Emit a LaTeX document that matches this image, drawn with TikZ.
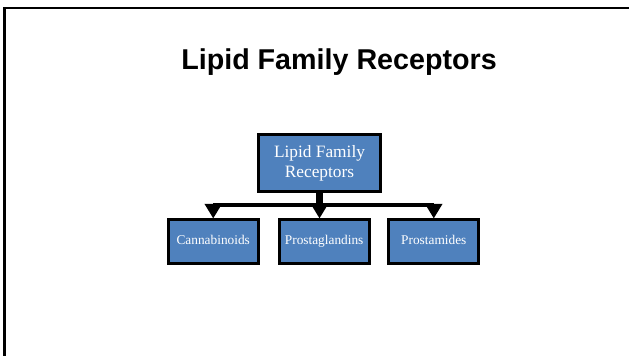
\documentclass[tikz,border=0pt]{standalone}
\usepackage{fontspec}
\setmainfont{Liberation Serif}
\newfontfamily\titlefont{Liberation Sans}
\usetikzlibrary{arrows.meta, positioning}
\definecolor{boxblue}{RGB}{79,129,189}
\tikzset{
	orgnode/.style = {shape=rectangle, draw=black, line width=2.2pt,
		fill=boxblue, text=white, align=center, inner sep=1pt},
	headnode/.style = {orgnode, minimum width=91.5pt, minimum height=43pt,
		font=\fontsize{13}{15}\selectfont},
	leafnode/.style = {orgnode, minimum width=67.5pt, minimum height=32.5pt,
		text height=0.7em, text depth=0.22em,
		font=\fontsize{10}{12}\selectfont},
	branch/.style = {-{Triangle[width=12.5pt, length=11pt]}, line width=2.5pt},
	frameline/.style = {line width=2pt, black},
}

\begin{document}
\begin{tikzpicture}[x=0.75pt, y=-0.75pt]
	\useasboundingbox (0,0) rectangle (629,356);
	% slide frame
	\draw[frameline] (4.7,360) |- (640,8);
	\node[anchor=base, inner sep=0pt, font=\titlefont\bfseries\fontsize{21.5}{25}\selectfont] (title) at (339,70) {Lipid Family Receptors};

	\node[headnode] (lipid) at (319.5,163) {Lipid Family\\Receptors};
	\node[leafnode, below=19pt of lipid, xshift=3.5pt] (prostag) {Prostaglandins};
	\node[leafnode, left=13.5pt of prostag] (canna) {Cannabinoids};
	\node[leafnode, right=12.5pt of prostag] (prostam) {Prostamides};

	\coordinate (bar) at (319.5,205);
	\draw[line width=3pt] (bar -| canna) -- (bar -| prostam);
	\draw[line width=5pt] (lipid.south) -- (bar);
	\draw[branch] (bar -| canna) -- (canna.north);
	\draw[branch] (bar) -- (bar |- prostag.north);
	\draw[branch] (bar -| prostam) -- (prostam.north);
\end{tikzpicture}
\end{document}
